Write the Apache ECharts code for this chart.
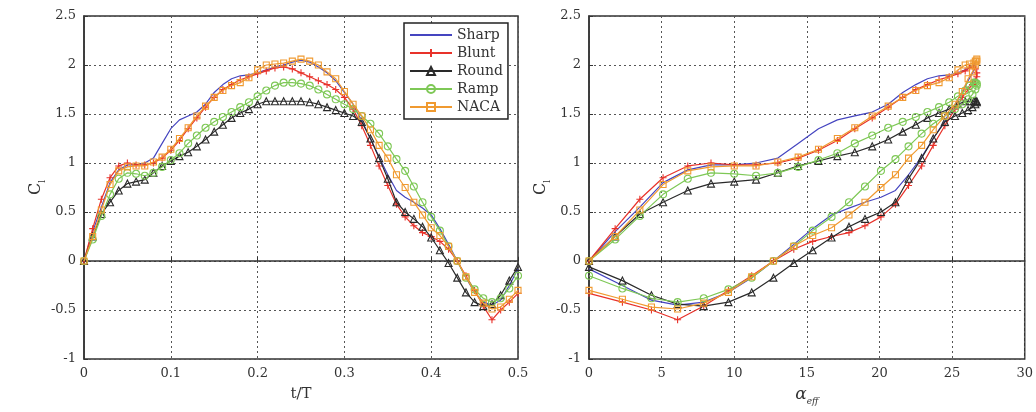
<!DOCTYPE html>
<html>
<head>
<meta charset="utf-8">
<script src="https://cdn.jsdelivr.net/npm/echarts@6/dist/echarts.min.js"></script>
<style>html,body{margin:0;padding:0;background:#fff;}#c{width:1036px;height:412px;}</style>
</head>
<body>
<div id="c"></div>
<script>
// t/T sample points (left panel x)
const tValues = [0,0.01,0.02,0.03,0.04,0.05,0.06,0.07,0.08,0.09,0.1,0.11,0.12,0.13,0.14,0.15,0.16,0.17,0.18,0.19,0.2,0.21,0.22,0.23,0.24,0.25,0.26,0.27,0.28,0.29,0.3,0.31,0.32,0.33,0.34,0.35,0.36,0.37,0.38,0.39,0.4,0.41,0.42,0.43,0.44,0.45,0.46,0.47,0.48,0.49,0.5];
// effective angle of attack at the same samples (right panel x)
const alphaEff = [0,1.8,3.5,5.1,6.8,8.4,10.0,11.5,13.0,14.4,15.8,17.1,18.3,19.5,20.6,21.6,22.5,23.3,24.1,24.8,25.4,25.9,26.2,26.5,26.6,26.7,26.7,26.6,26.4,26.1,25.7,25.2,24.5,23.7,22.9,22.0,21.1,20.1,19.0,17.9,16.7,15.4,14.1,12.7,11.2,9.6,7.9,6.1,4.3,2.3,0];
// Cl values
const sharp = [0,0.3,0.55,0.8,0.93,0.98,0.98,1.0,1.05,1.2,1.35,1.44,1.48,1.52,1.6,1.72,1.8,1.86,1.89,1.9,1.92,1.95,1.98,2.0,2.03,2.05,2.03,1.98,1.92,1.84,1.72,1.6,1.43,1.25,1.06,0.88,0.72,0.65,0.6,0.54,0.47,0.33,0.17,0.0,-0.17,-0.32,-0.42,-0.45,-0.4,-0.25,-0.08];
const blunt = [0,0.33,0.63,0.85,0.97,1.0,0.98,0.98,1.0,1.05,1.13,1.23,1.35,1.46,1.57,1.67,1.75,1.8,1.85,1.88,1.91,1.94,1.97,1.98,1.96,1.92,1.88,1.84,1.8,1.75,1.67,1.55,1.38,1.18,0.97,0.77,0.58,0.45,0.36,0.29,0.25,0.2,0.12,0.0,-0.15,-0.3,-0.46,-0.6,-0.5,-0.42,-0.33];
const round = [0,0.25,0.48,0.6,0.72,0.79,0.81,0.83,0.9,0.97,1.02,1.07,1.11,1.17,1.24,1.32,1.39,1.46,1.51,1.55,1.6,1.63,1.63,1.63,1.63,1.63,1.62,1.6,1.57,1.54,1.51,1.48,1.42,1.25,1.05,0.84,0.6,0.5,0.43,0.35,0.24,0.11,-0.02,-0.17,-0.32,-0.42,-0.46,-0.44,-0.35,-0.2,-0.06];
const ramp = [0,0.22,0.46,0.68,0.84,0.9,0.89,0.87,0.9,0.96,1.03,1.1,1.2,1.28,1.36,1.42,1.47,1.52,1.57,1.62,1.68,1.74,1.79,1.82,1.82,1.81,1.79,1.75,1.7,1.65,1.6,1.55,1.48,1.4,1.3,1.17,1.04,0.92,0.76,0.6,0.45,0.31,0.15,0.0,-0.17,-0.29,-0.38,-0.42,-0.38,-0.28,-0.15];
const naca = [0,0.25,0.52,0.78,0.92,0.96,0.97,0.97,1.01,1.06,1.14,1.25,1.36,1.48,1.58,1.67,1.74,1.79,1.82,1.87,1.95,2.0,2.01,2.02,2.04,2.06,2.04,2.0,1.93,1.86,1.73,1.6,1.48,1.34,1.18,1.05,0.88,0.75,0.6,0.47,0.34,0.26,0.15,0.0,-0.16,-0.32,-0.43,-0.49,-0.47,-0.39,-0.3];

const seriesNames = ['Sharp','Blunt','Round','Ramp','NACA'];
const seriesData = [sharp, blunt, round, ramp, naca];

const FONT = 'DejaVu Serif';
const styles = {
  Sharp: {color:'#4545c0', symbol:'none', size:0},
  Blunt: {color:'#e8322a', symbol:'path://M5,0L5,10M0,5L10,5', size:7},
  Round: {color:'#2a2a2a', symbol:'triangle', size:7},
  Ramp:  {color:'#7ec856', symbol:'circle', size:7},
  NACA:  {color:'#f09a30', symbol:'rect', size:6}
};

function axisCommon(){
  return {
    axisLine:{show:true, lineStyle:{color:'#333', width:1.5}},
    axisTick:{show:true, inside:true, length:4, lineStyle:{color:'#333'}},
    axisLabel:{fontFamily:FONT, fontSize:13, color:'#333', margin:8},
    splitLine:{show:true, lineStyle:{color:'#555', width:1, type:[2,3]}},
    nameTextStyle:{fontFamily:FONT, fontSize:15, color:'#333'}
  };
}

const xAxes = [
  Object.assign(axisCommon(), {gridIndex:0, type:'value', min:0, max:0.5, interval:0.1,
    name:'t/T', nameLocation:'middle', nameGap:28}),
  Object.assign(axisCommon(), {gridIndex:1, type:'value', min:0, max:30, interval:5,
    name:'{a|α}{s|eff}', nameLocation:'middle', nameGap:24})
];
xAxes[1].nameTextStyle = {fontFamily:FONT, color:'#333',
  rich:{a:{fontFamily:FONT, fontSize:17, fontStyle:'italic', color:'#333', lineHeight:20, verticalAlign:'bottom'},
        s:{fontFamily:FONT, fontSize:9, fontStyle:'italic', color:'#333', lineHeight:12, verticalAlign:'bottom', padding:[0,0,-3,0]}}};

function yAxis(idx){
  const a = Object.assign(axisCommon(), {gridIndex:idx, type:'value', min:-1, max:2.5, interval:0.5,
    name:'{c|C}{s|l}', nameLocation:'middle', nameGap:32, nameRotate:90});
  a.nameTextStyle = {fontFamily:FONT, color:'#333',
    rich:{c:{fontFamily:FONT, fontSize:16, color:'#333', lineHeight:20, verticalAlign:'bottom'},
          s:{fontFamily:FONT, fontSize:9, color:'#333', lineHeight:12, verticalAlign:'bottom', padding:[0,0,-3,0]}}};
  return a;
}

const series = [];
seriesNames.forEach((name, k) => {
  const st = styles[name];
  const vals = seriesData[k];
  const base = {
    name: name, type:'line', color: st.color,
    symbol: st.symbol, symbolSize: st.size, showSymbol: st.symbol !== 'none',
    lineStyle:{color: st.color, width:1.2},
    itemStyle:{color: name==='Blunt' ? st.color : 'rgba(255,255,255,0)', borderColor: st.color, borderWidth:1.1},
    emphasis:{disabled:true}, animation:false, z: 2 + k
  };
  series.push(Object.assign({}, base, {xAxisIndex:0, yAxisIndex:0,
    data: tValues.map((t,i)=>[t, vals[i]])}));
  series.push(Object.assign({}, base, {xAxisIndex:1, yAxisIndex:1,
    data: alphaEff.map((a,i)=>[a, vals[i]])}));
});

const legendData = seriesNames.map(n => n === 'Sharp'
  ? {name:n, itemStyle:{opacity:0, borderWidth:0}}
  : {name:n});

const chart = echarts.init(document.getElementById('c'), null, {renderer:'canvas'});
chart.setOption({
  backgroundColor:'#fff',
  animation:false,
  grid:[
    {left:84, right:518, top:16, bottom:53, show:true, borderColor:'#333', borderWidth:1.5, backgroundColor:'#fff'},
    {left:589, right:10, top:16, bottom:53, show:true, borderColor:'#333', borderWidth:1.5, backgroundColor:'#fff'}
  ],
  legend:{
    data: legendData, orient:'vertical', left:404, top:23,
    itemWidth:42, itemHeight:10, itemGap:2,
    borderColor:'#222', borderWidth:1.5, backgroundColor:'#fff',
    padding:[4,5,4,5],
    textStyle:{fontFamily:FONT, fontSize:14, color:'#333', lineHeight:16}
  },
  xAxis: xAxes,
  yAxis: [yAxis(0), yAxis(1)],
  series: series
});
</script>
</body>
</html>
